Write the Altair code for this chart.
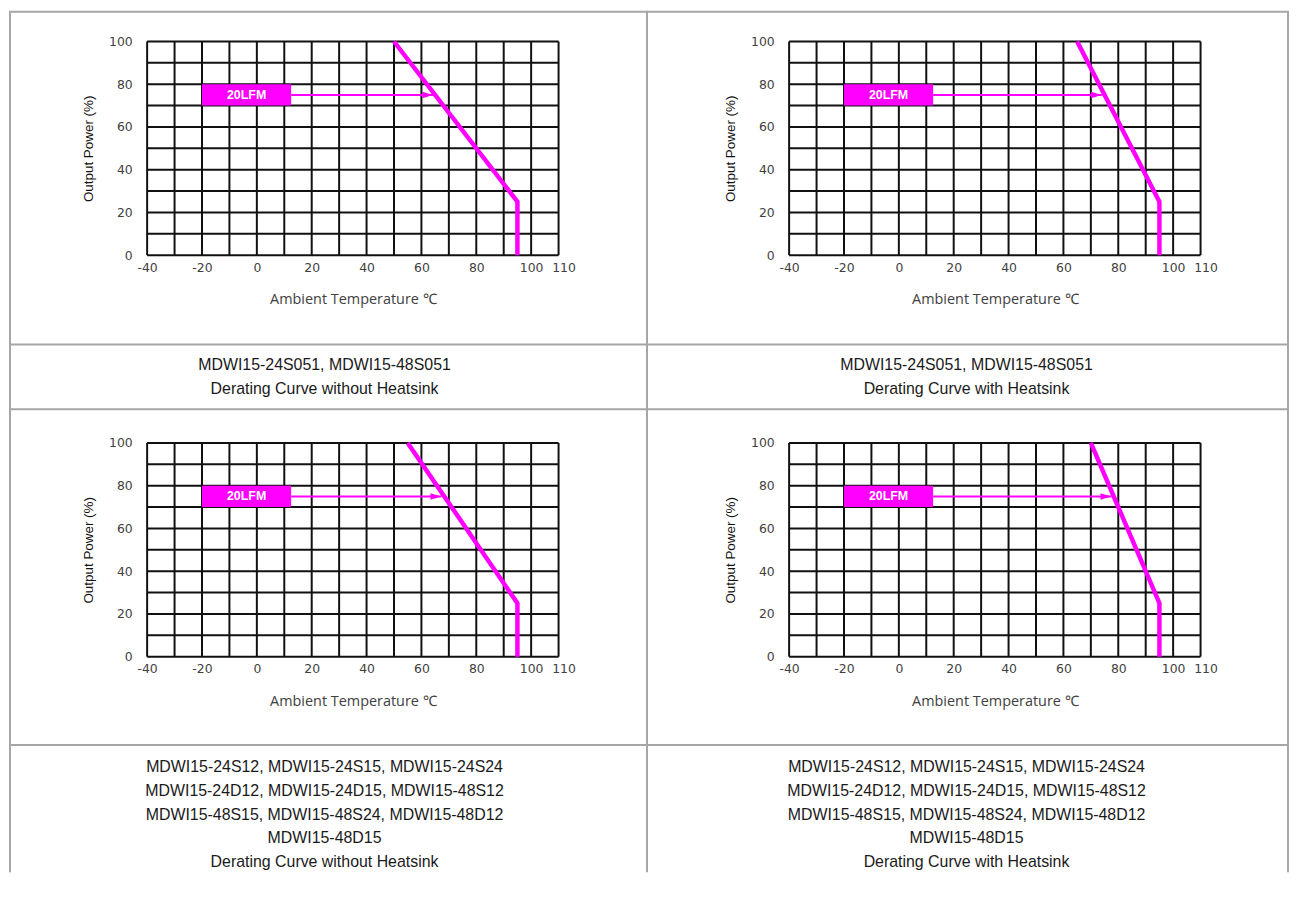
import altair as alt
import pandas as pd

# ---------------- data ----------------
x_grid = [-40, -30, -20, -10, 0, 10, 20, 30, 40, 50, 60, 70, 80, 90, 100, 110]
y_grid = [0, 10, 20, 30, 40, 50, 60, 70, 80, 90, 100]
x_labels = [-40, -20, 0, 20, 40, 60, 80, 100, 110]
y_labels = [0, 20, 40, 60, 80, 100]

curve_power = [100, 25, 0]
curve_temps = [
    [50, 95, 95],   # S051 without heatsink
    [65, 95, 95],   # S051 with heatsink
    [55, 95, 95],   # others without heatsink
    [70, 95, 95],   # others with heatsink
]

box_label = "20LFM"
box_x = [-20, 12.5]
box_y = [70, 80]
arrow_y = 75
arrow_end = [64.3, 74.0, 67.3, 77.5]

captions = [
    ["MDWI15-24S051, MDWI15-48S051", "Derating Curve without Heatsink"],
    ["MDWI15-24S051, MDWI15-48S051", "Derating Curve with Heatsink"],
    ["MDWI15-24S12, MDWI15-24S15, MDWI15-24S24",
     "MDWI15-24D12, MDWI15-24D15, MDWI15-48S12",
     "MDWI15-48S15, MDWI15-48S24, MDWI15-48D12",
     "MDWI15-48D15",
     "Derating Curve without Heatsink"],
    ["MDWI15-24S12, MDWI15-24S15, MDWI15-24S24",
     "MDWI15-24D12, MDWI15-24D15, MDWI15-48S12",
     "MDWI15-48S15, MDWI15-48S24, MDWI15-48D12",
     "MDWI15-48D15",
     "Derating Curve with Heatsink"],
]

# ---------------- style ----------------
W, H = 414, 215
MAG = "#FF00FF"
GRID = "#111111"
BORDER = "#a6a6a6"
LABEL_COLOR = "#404040"

xs = alt.Scale(domain=[-40, 110], nice=False, zero=False)
ys = alt.Scale(domain=[0, 100], nice=False, zero=False)

x_axis = alt.Axis(values=x_labels, grid=False, ticks=False, tickSize=0, domain=False,
                  labelExpr="'' + datum.value",
                  labelFont="DejaVu Sans", labelFontSize=12.5, labelColor=LABEL_COLOR,
                  labelPadding=6, labelFlush=False, labelOverlap=False,
                  labelOffset=alt.condition("datum.value == 110", alt.value(5), alt.value(0)),
                  title="Ambient Temperature ℃", titleFont="Open Sans", titleFontSize=14.5,
                  titleFontWeight="normal", titleColor=LABEL_COLOR,
                  titleX=W / 2, titleY=45, titleBaseline="middle", titleAlign="center")
y_axis = alt.Axis(values=y_labels, grid=False, ticks=False, tickSize=0, domain=False,
                  labelExpr="'' + datum.value",
                  labelFont="DejaVu Sans", labelFontSize=12.5, labelColor=LABEL_COLOR,
                  labelPadding=15, labelFlush=False, labelOverlap=False,
                  title="Output Power (%)", titleFont="Liberation Sans", titleFontSize=13.5,
                  titleFontWeight="normal", titleColor="#111111",
                  titleX=-59, titleY=H / 2, titleBaseline="middle", titleAlign="center",
                  titleAngle=270)

one = pd.DataFrame({"k": [0]})


def cell(i):
    col = i % 2
    row = i // 2
    vgrid = alt.Chart(pd.DataFrame({"t": x_grid})).mark_rule(color=GRID, strokeWidth=2).encode(
        x=alt.X("t:Q", scale=xs, axis=x_axis))
    hgrid = alt.Chart(pd.DataFrame({"p": y_grid})).mark_rule(color=GRID, strokeWidth=2).encode(
        y=alt.Y("p:Q", scale=ys, axis=y_axis))
    curve = alt.Chart(pd.DataFrame({"t": curve_temps[i], "p": curve_power,
                                    "o": list(range(len(curve_power)))})).mark_line(
        color=MAG, strokeWidth=4.5).encode(
        x=alt.X("t:Q", scale=xs), y=alt.Y("p:Q", scale=ys), order="o:Q")
    box_df = pd.DataFrame({"x0": [box_x[0]], "x1": [box_x[1]], "y0": [box_y[0]], "y1": [box_y[1]],
                           "xm": [(box_x[0] + box_x[1]) / 2], "ym": [(box_y[0] + box_y[1]) / 2],
                           "lab": [box_label], "ay": [arrow_y], "ae": [arrow_end[i]]})
    box = alt.Chart(box_df).mark_rect(color=MAG).encode(
        x=alt.X("x0:Q", scale=xs), x2="x1:Q", y=alt.Y("y0:Q", scale=ys), y2="y1:Q")
    box_text = alt.Chart(box_df).mark_text(color="white", font="Liberation Sans", fontWeight="bold",
                                           fontSize=12.5, baseline="middle").encode(
        x=alt.X("xm:Q", scale=xs), y=alt.Y("ym:Q", scale=ys), text="lab:N")
    arrow = alt.Chart(box_df).mark_rule(color=MAG, strokeWidth=2).encode(
        x=alt.X("x1:Q", scale=xs), x2="ae:Q", y=alt.Y("ay:Q", scale=ys))
    head = alt.Chart(box_df).mark_point(shape="M-2,-0.6L0,0L-2,0.6Z", filled=True, size=121,
                                        color=MAG, opacity=1).encode(
        x=alt.X("ae:Q", scale=xs), y=alt.Y("ay:Q", scale=ys))
    caption = alt.Chart(one).mark_text(font="Liberation Sans", fontSize=16, color="#1a1a1a",
                                       align="center", baseline="alphabetic", lineHeight=24).encode(
        x=alt.value(178.5), y=alt.value(331), text=alt.value(captions[i]))

    # table borders (decoration)
    left = -138 if col == 0 else -143
    right = 503 if col == 0 else 502
    top = -30 if row == 0 else -34
    divider = 305 if row == 0 else 304
    bottom = 370 if row == 0 else 432
    b = dict(color=BORDER, strokeWidth=2)
    borders = [
        alt.Chart(one).mark_rule(**b).encode(x=alt.value(left - 1), x2=alt.value(right + 1), y=alt.value(top)),
        alt.Chart(one).mark_rule(**b).encode(x=alt.value(left - 1), x2=alt.value(right + 1), y=alt.value(divider)),
        alt.Chart(one).mark_rule(**b).encode(x=alt.value(left), y=alt.value(top), y2=alt.value(bottom)),
    ]
    if col == 1:
        borders.append(alt.Chart(one).mark_rule(**b).encode(
            x=alt.value(right), y=alt.value(top), y2=alt.value(bottom)))

    return alt.layer(*borders, vgrid, hgrid, curve, box, box_text, arrow, head, caption).properties(
        width=W, height=H)


chart = alt.concat(cell(0), cell(1), cell(2), cell(3), columns=2,
                   spacing={"row": 189, "column": 232}, bounds="flush").properties(
    padding=0, background="white").configure_view(stroke=None)

chart.save("out.html", embed_options={"renderer": "svg", "actions": False})
